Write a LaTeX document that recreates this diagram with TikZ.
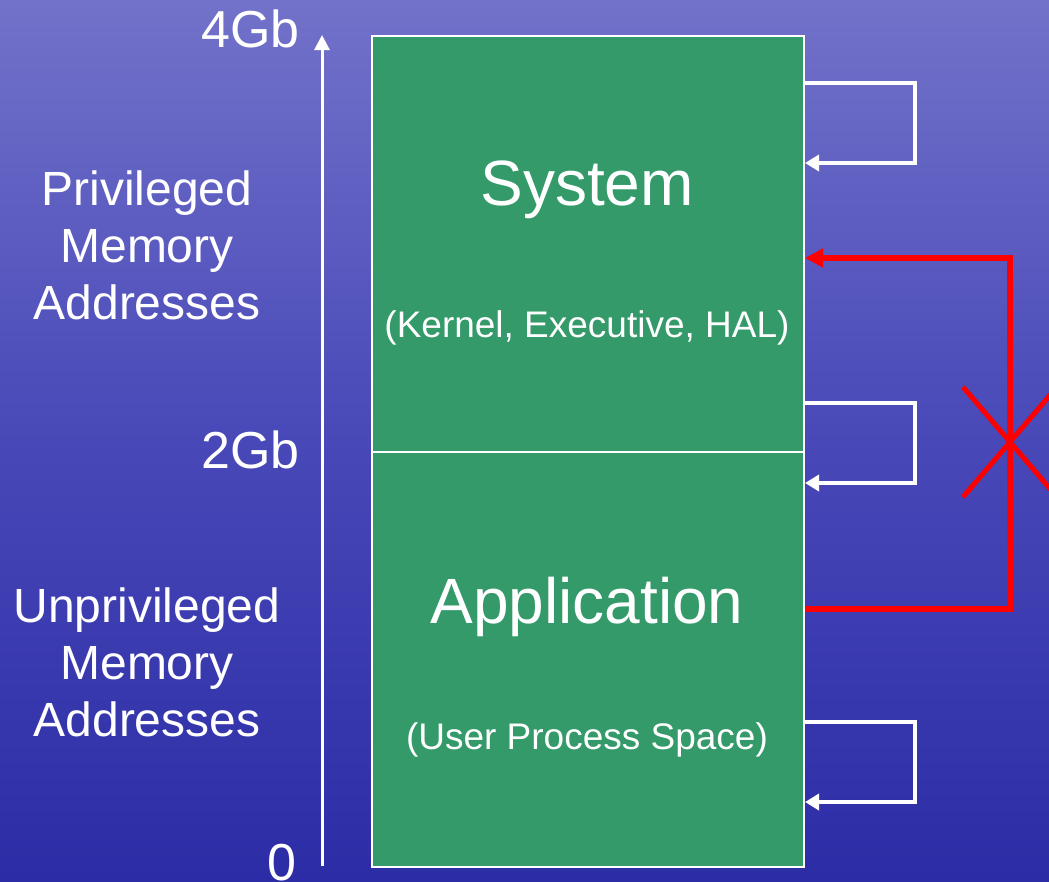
\documentclass[tikz,border=0pt]{standalone}
\usepackage{fontspec}
\setmainfont{Liberation Sans}
\usetikzlibrary{arrows.meta}
\definecolor{bgtop}{RGB}{114,114,202}
\definecolor{bgmid}{RGB}{72,72,184}
\definecolor{bgbot}{RGB}{44,44,166}
\definecolor{boxgreen}{RGB}{52,154,106}
\definecolor{xred}{RGB}{255,0,0}
\tikzset{
  memblock/.style={draw=white, line width=2pt, fill=boxgreen, minimum width=432pt, inner sep=0pt, anchor=north west},
  sidelabel/.style={text=white, font=\fontsize{48}{57}\selectfont, align=center, inner sep=0pt},
  ticklabel/.style={text=white, font=\fontsize{52}{57}\selectfont, inner sep=0pt, anchor=base east},
  bigtitle/.style={text=white, font=\fontsize{64}{70}\selectfont, inner sep=0pt},
  subtitle/.style={text=white, font=\fontsize{37}{40}\selectfont, inner sep=0pt},
  wloop/.style={draw=white, line width=4pt, -{Triangle[length=14pt,width=16pt]}},
  rloop/.style={draw=xred, line width=6pt, -{Triangle[length=18pt,width=18pt]}},
  crossline/.style={draw=xred, line width=5pt}
}
\begin{document}
\begin{tikzpicture}[x=1pt,y=-1pt]
\useasboundingbox (0,0) rectangle (1049,881);
\clip (0,0) rectangle (1049,881);
\shade[top color=bgtop, bottom color=bgmid] (0,0) rectangle (1049,440);
\shade[top color=bgmid, bottom color=bgbot] (0,440) rectangle (1049,881);
% memory blocks
\node[memblock, minimum height=416pt] (sys) at (371,35) {};
\node[memblock, minimum height=415pt] (app) at (371,451) {};
% texts in blocks
\node[bigtitle] (systxt) at (587,190) {System};
\node[subtitle] (syssub) at (587,328) {(Kernel, Executive, HAL)};
\node[bigtitle] (apptxt) at (587,607) {Application};
\node[subtitle] (appsub) at (587,740) {(User Process Space)};
% axis
\coordinate (axbot) at (322,866);
\coordinate (axtop) at (322,35);
\draw[white, line width=3pt, -{Triangle[length=15pt,width=15pt]}] (axbot) -- (axtop);
\node[ticklabel] (l4) at (300,47) {4Gb};
\node[ticklabel] (l2) at (300,468) {2Gb};
\node[ticklabel] (l0) at (297,880) {0};
\node[sidelabel] (priv) at (147,245) {Privileged\\Memory\\Addresses};
\node[sidelabel] (unpriv) at (147,662) {Unprivileged\\Memory\\Addresses};
% white self loops
\draw[wloop] (sys.east |- 0,83) -| (915,163) -- (sys.east |- 0,163);
\draw[wloop] (sys.east |- 0,403) -| (915,483) -- (app.east |- 0,483);
\draw[wloop] (app.east |- 0,722) -| (915,802) -- (app.east |- 0,802);
% red forbidden call
\coordinate (rc) at (1010,442);
\draw[rloop] (app.east |- 0,609) -| (rc) |- (sys.east |- 0,258);
\draw[crossline] (963,387) -- (1057,497);
\draw[crossline] (963,497) -- (1057,387);
\end{tikzpicture}
\end{document}
